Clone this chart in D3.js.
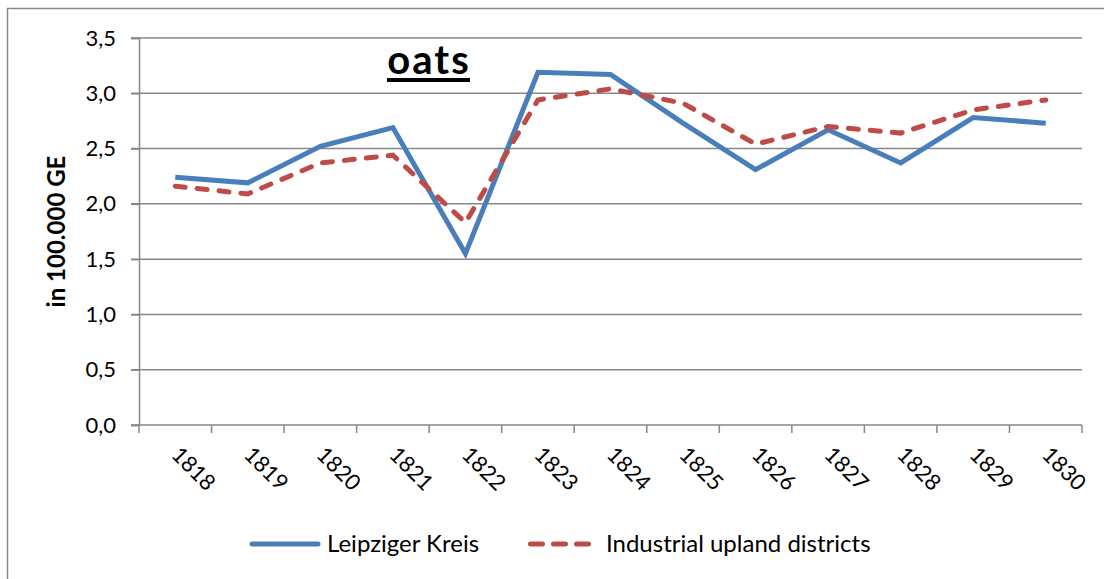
<!DOCTYPE html>
<html>
<head>
<meta charset="utf-8">
<script src="https://cdn.jsdelivr.net/npm/d3@7.9.0/dist/d3.min.js"></script>
<style>
  body { margin: 0; background: #fff; }
  svg { display: block; font-family: Lato, "Open Sans", sans-serif; }
</style>
</head>
<body>
<svg id="chart" width="1104" height="579"></svg>
<script>
const years = ['1818', '1819', '1820', '1821', '1822', '1823', '1824', '1825', '1826', '1827', '1828', '1829', '1830'];
const leipzig = [2.24, 2.19, 2.52, 2.69, 1.55, 3.19, 3.17, 2.73, 2.31, 2.67, 2.37, 2.78, 2.73];
const upland = [2.16, 2.09, 2.37, 2.44, 1.83, 2.94, 3.04, 2.91, 2.54, 2.70, 2.64, 2.85, 2.94];
const yTicks = [0, 0.5, 1, 1.5, 2, 2.5, 3, 3.5];

const series = [
    { name: 'Leipziger Kreis', values: leipzig, color: '#4a7ebb', dash: null },
    { name: 'Industrial upland districts', values: upland, color: '#be4b48', dash: '10,12' }
];

const svg = d3.select('#chart');
const plotLeft = 139, plotRight = 1082, plotTop = 38, plotBottom = 425;
const grid = '#878787';

// outer frame, cropped at right and bottom like the original
svg.append('rect')
    .attr('x', 7.5).attr('y', 8.5)
    .attr('width', 1110).attr('height', 600)
    .attr('fill', 'none').attr('stroke', '#8a8a8a').attr('stroke-width', 1.5);

const x = d3.scaleBand().domain(years).range([plotLeft, plotRight]);
const y = d3.scaleLinear().domain([0, 3.5]).range([plotBottom, plotTop]);
const fmt = (v) => d3.format('.1f')(v).replace('.', ',');

// gridlines
svg.append('g')
    .selectAll('line')
    .data(yTicks)
    .join('line')
    .attr('x1', plotLeft - 8).attr('x2', plotRight)
    .attr('y1', (d) => y(d)).attr('y2', (d) => y(d))
    .attr('stroke', grid).attr('stroke-width', 1.5);

// y axis
const yAxis = svg.append('g')
    .attr('transform', `translate(${plotLeft},0)`)
    .call(d3.axisLeft(y).tickValues(yTicks).tickFormat(fmt).tickSize(8).tickPadding(15));
yAxis.select('.domain').attr('stroke', grid).attr('stroke-width', 1.5);
yAxis.selectAll('.tick line').attr('stroke', grid).attr('stroke-width', 1.5);
yAxis.selectAll('text').attr('font-size', 22).attr('fill', '#000').attr('font-family', 'Lato, sans-serif');

// x axis: ticks on band boundaries
const boundaries = years.map((d) => x(d)).concat([plotRight]);
svg.append('g')
    .selectAll('line')
    .data(boundaries)
    .join('line')
    .attr('x1', (d) => d).attr('x2', (d) => d)
    .attr('y1', plotBottom).attr('y2', plotBottom + 8)
    .attr('stroke', grid).attr('stroke-width', 1.5);

svg.append('g')
    .selectAll('text')
    .data(years)
    .join('text')
    .attr('transform', (d) => `translate(${x(d) + x.bandwidth() / 2 - 5},${plotBottom + 31}) rotate(45)`)
    .attr('font-size', 22)
    .text((d) => d);

// y axis title
svg.append('text')
    .attr('transform', `translate(65,${(plotTop + plotBottom) / 2}) rotate(-90)`)
    .attr('text-anchor', 'middle')
    .attr('font-size', 24)
    .attr('font-weight', 'bold')
    .text('in 100.000 GE');

// title
const title = svg.append('text')
    .attr('x', 429).attr('y', 74)
    .attr('text-anchor', 'middle')
    .attr('font-size', 40)
    .attr('font-weight', 'bold')
    .attr('letter-spacing', 2)
    .text('oats');
const tb = title.node().getBBox();
svg.append('rect')
    .attr('x', 387).attr('y', 78)
    .attr('width', 83).attr('height', 4)
    .attr('fill', '#000');

// lines
const line = d3.line()
    .x((d, i) => x(years[i]) + x.bandwidth() / 2)
    .y((d) => y(d));

series.forEach((s) => {
    svg.append('path')
        .attr('d', line(s.values))
        .attr('fill', 'none')
        .attr('stroke', s.color)
        .attr('stroke-width', 5)
        .attr('stroke-dasharray', s.dash)
        .attr('stroke-linecap', s.dash ? 'round' : 'butt')
        .attr('stroke-linejoin', 'miter');
});

// legend
const legendPos = [{ x1: 252, x2: 318, tx: 327 }, { x1: 530.5, x2: 588.5, tx: 606 }];
series.forEach((s, i) => {
    const p = legendPos[i];
    svg.append('line')
        .attr('x1', p.x1).attr('x2', p.x2)
        .attr('y1', 544).attr('y2', 544)
        .attr('stroke', s.color)
        .attr('stroke-width', 5)
        .attr('stroke-linecap', 'round')
        .attr('stroke-dasharray', s.dash ? '12,11' : null);
    svg.append('text')
        .attr('x', p.tx).attr('y', 552)
        .attr('font-size', 24)
        .text(s.name);
});
</script>
</body>
</html>
